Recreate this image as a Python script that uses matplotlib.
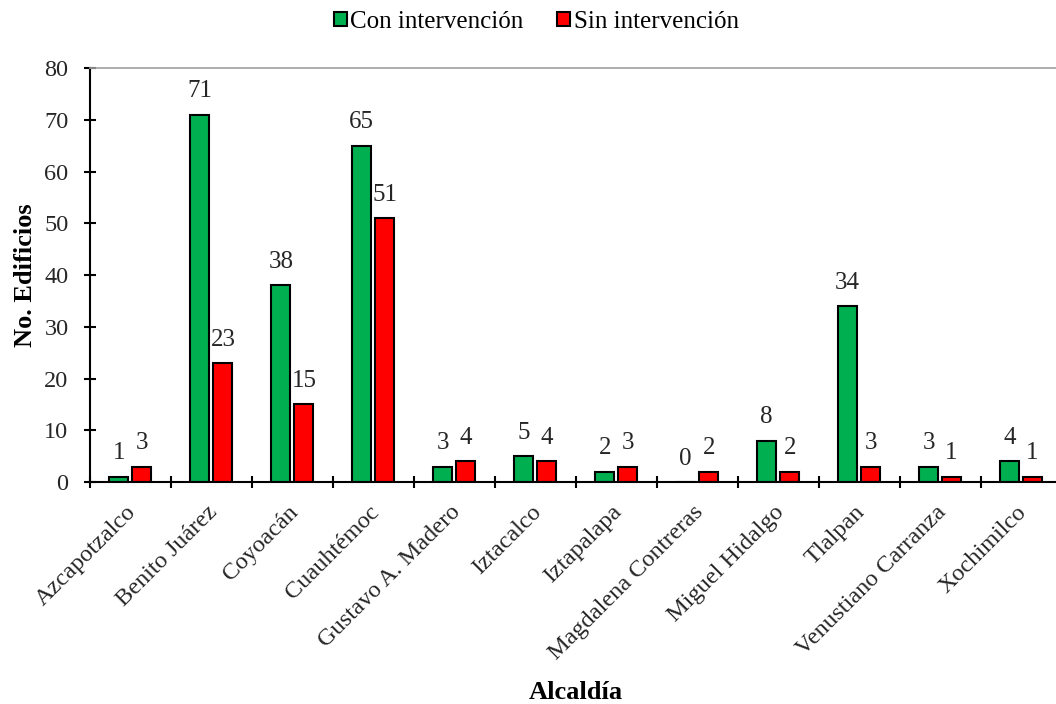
import numpy as np
import matplotlib.pyplot as plt

alcaldias = ['Azcapotzalco', 'Benito Juárez', 'Coyoacán', 'Cuauhtémoc',
             'Gustavo A. Madero', 'Iztacalco', 'Iztapalapa',
             'Magdalena Contreras', 'Miguel Hidalgo', 'Tlalpan',
             'Venustiano Carranza', 'Xochimilco']
con_intervencion = [1, 71, 38, 65, 3, 5, 2, 0, 8, 34, 3, 4]
sin_intervencion = [3, 23, 15, 51, 4, 4, 3, 2, 2, 3, 1, 1]

plt.rcParams['font.family'] = ['Liberation Serif', 'DejaVu Serif']

fig = plt.figure(figsize=(10.56, 7.04), dpi=100)
ax = fig.add_axes([0.0852, 0.3153, 0.920, 0.588])

x = np.arange(len(alcaldias))
w = 0.235
off = 0.142
b1 = ax.bar(x - off, con_intervencion, w, color='#00B050', edgecolor='black',
            linewidth=1.5, label='Con intervención')
b2 = ax.bar(x + off, sin_intervencion, w, color='#FF0000', edgecolor='black',
            linewidth=1.5, label='Sin intervención')

for bars in (b1, b2):
    for r in bars:
        ax.annotate(str(int(r.get_height())), (r.get_x() + r.get_width() / 2, r.get_height()),
                    xytext=(0, 9), textcoords='offset points', ha='center', va='bottom',
                    fontsize=18, color='#262626')

ax.set_xlim(-0.5, len(alcaldias) - 0.5)
ax.set_ylim(0, 80)
ax.set_yticks(range(0, 81, 10))
ax.set_xticks(np.arange(-0.5, len(alcaldias), 1.0))
ax.set_xticklabels([])
ax.set_xticks(x - 0.06, minor=True)
ax.set_xticklabels(alcaldias, minor=True, rotation=45, ha='right',
                   rotation_mode='anchor', fontsize=17.5, color='#262626')
ax.tick_params(axis='x', which='minor', length=0, pad=14)
ax.tick_params(axis='both', which='major', direction='inout', length=9, width=1.5,
               labelsize=17.5, labelcolor='#262626')
ax.tick_params(axis='y', pad=11)

ax.spines['right'].set_visible(False)
ax.spines['top'].set_color('#a0a0a0')
ax.spines['top'].set_linewidth(1.2)
ax.spines['left'].set_linewidth(1.5)
ax.spines['bottom'].set_linewidth(1.5)

ax.set_xlabel('Alcaldía', fontsize=19, fontweight='bold', labelpad=12)
ax.set_ylabel('No. Edificios', fontsize=19, fontweight='bold', labelpad=5)

fig.legend(handles=[b1, b2], loc='upper center', bbox_to_anchor=(0.508, 1.017), ncol=2,
           frameon=False, fontsize=18, handlelength=0.5, handleheight=0.5,
           handletextpad=0.15, columnspacing=1.35)

fig.savefig('out.png', dpi=100)
